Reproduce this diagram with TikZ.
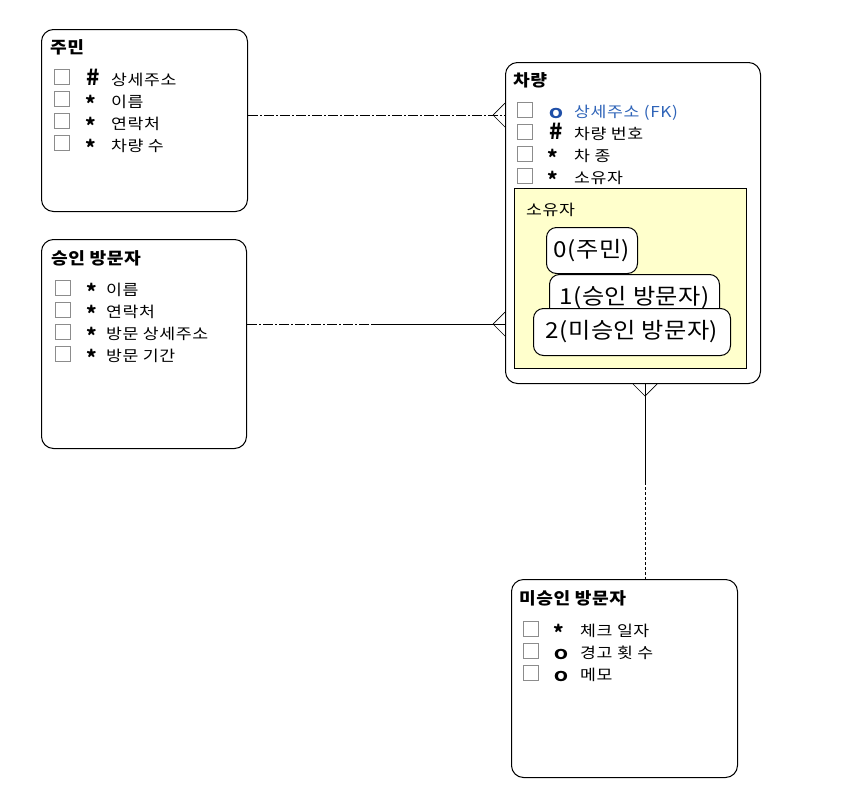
\documentclass[tikz,border=0pt]{standalone}
\usepackage{fontspec}
\setmainfont{Noto Sans CJK KR}
\usetikzlibrary{calc}
\definecolor{fkblue}{HTML}{2F64B8}
\definecolor{okblue}{HTML}{1F4FA8}
\definecolor{boxgray}{HTML}{8C8C8C}
\definecolor{paleyellow}{HTML}{FFFFCC}
\begin{document}
\begin{tikzpicture}[x=1pt,y=-1pt,
  entity/.style={draw, line width=1pt, rounded corners=12pt, inner sep=0pt, anchor=north west},
  chk/.style={draw=boxgray, line width=1pt, minimum size=15pt, inner sep=0pt, anchor=north west},
  txt/.style={anchor=base west, inner sep=0pt, font=\fontsize{15}{18}\selectfont\addfontfeatures{FakeStretch=1.15,LetterSpace=4}},
  ttl/.style={anchor=base west, inner sep=0pt, font=\fontsize{16.5}{19}\selectfont\bfseries\addfontfeatures{FakeStretch=1.1,LetterSpace=3}},
  star/.style={anchor=base, inner sep=0pt, font=\fontsize{20}{22}\selectfont\bfseries},
  hash/.style={anchor=base, inner sep=0pt, font=\fontsize{22}{24}\selectfont\bfseries},
  circ/.style={anchor=base, inner sep=0pt, font=\fontsize{13.5}{15}\selectfont\bfseries\addfontfeatures{FakeStretch=1.35}},
  pill/.style={draw, fill=white, rounded corners=10pt, line width=1pt, inner sep=0pt, anchor=north west, font=\fontsize{22}{26}\selectfont\addfontfeatures{FakeStretch=1.1,LetterSpace=2}},
  conn/.style={line width=0.9pt},
  dashdot/.style={conn, dash pattern=on 10pt off 2pt on 2pt off 2pt},
  shortdash/.style={conn, dash pattern=on 3pt off 2pt},
  foot/.style={line width=0.7pt}]
\useasboundingbox (0,0) rectangle (841,809);

% ---------- 주민 ----------
\node[entity, minimum width=206pt, minimum height=182pt] (jumin) at (41,29) {};
\node[ttl] (juminT) at (50,53) {주민};
\node[chk] (jc1) at (54,69) {};
\node[chk] (jc2) at (54,91) {};
\node[chk] (jc3) at (54,113) {};
\node[chk] (jc4) at (54,135) {};
\node[hash] (js1) at (93,85) {\#};
\node[star] (js2) at (91,111) {*};
\node[star] (js3) at (91,133) {*};
\node[star] (js4) at (91,155) {*};
\node[txt] (jt1) at (111,85) {상세주소};
\node[txt] (jt2) at (111,107) {이름};
\node[txt] (jt3) at (111,129) {연락처};
\node[txt] (jt4) at (111,151) {차량 수};

% ---------- 승인 방문자 ----------
\node[entity, minimum width=205pt, minimum height=209pt] (seung) at (41,239) {};
\node[ttl] (seungT) at (51,264) {승인 방문자};
\node[chk] (sc1) at (55,280) {};
\node[chk] (sc2) at (55,302) {};
\node[chk] (sc3) at (55,324) {};
\node[chk] (sc4) at (55,346) {};
\node[star] (ss1) at (92,299) {*};
\node[star] (ss2) at (92,321) {*};
\node[star] (ss3) at (92,343) {*};
\node[star] (ss4) at (92,365) {*};
\node[txt] (st1) at (106,295) {이름};
\node[txt] (st2) at (106,317) {연락처};
\node[txt] (st3) at (106,339) {방문 상세주소};
\node[txt] (st4) at (106,361) {방문 기간};

% ---------- 차량 ----------
\node[entity, minimum width=255pt, minimum height=321pt] (car) at (505,62) {};
\node[ttl] (carT) at (513,86) {차량};
\node[chk] (cc1) at (517,102) {};
\node[chk] (cc2) at (517,124) {};
\node[chk] (cc3) at (517,146) {};
\node[chk] (cc4) at (517,168) {};
\node[circ, text=okblue] (cs1) at (556,118) {O};
\node[hash] (cs2) at (556,139) {\#};
\node[star] (cs3) at (553,165) {*};
\node[star] (cs4) at (553,187) {*};
\node[txt, text=fkblue] (ct1) at (574,117) {상세주소 (FK)};
\node[txt] (ct2) at (574,139) {차량 번호};
\node[txt] (ct3) at (574,161) {차 종};
\node[txt] (ct4) at (574,183) {소유자};
\node[draw, line width=0.8pt, fill=paleyellow, minimum width=232pt, minimum height=180pt, inner sep=0pt, anchor=north west] (sub) at (514,188) {};
\node[txt] (subT) at (526,215) {소유자};
\node[pill, minimum width=91pt, minimum height=46pt] (p0) at (546,227) {0(주민)};
\node[pill, minimum width=170pt, minimum height=46pt] (p1) at (549,274) {1(승인 방문자)};
\node[pill, minimum width=197pt, minimum height=47pt] (p2) at (533,308) {2(미승인 방문자)};

% ---------- 미승인 방문자 ----------
\node[entity, minimum width=226pt, minimum height=198pt] (mis) at (511,579) {};
\node[ttl] (misT) at (519,604) {미승인 방문자};
\node[chk] (mc1) at (523,621) {};
\node[chk] (mc2) at (523,643) {};
\node[chk] (mc3) at (523,665) {};
\node[star] (ms1) at (559,640) {*};
\node[circ] (ms2) at (561,659) {O};
\node[circ] (ms3) at (561,681) {O};
\node[txt] (mt1) at (580,636) {체크 일자};
\node[txt] (mt2) at (580,658) {경고 횟 수};
\node[txt] (mt3) at (580,680) {메모};

% ---------- connectors ----------
% 주민 -- 차량
\coordinate (e1) at (car.west |- 0,115);
\coordinate (f1) at ($(e1)+(-12,0)$);
\draw[dashdot] (jumin.east |- e1) -- (e1);
\draw[foot] (f1) -- ($(e1)+(0,-12)$);
\draw[foot] (f1) -- ($(e1)+(0,12)$);

% 승인 방문자 -- 차량
\coordinate (e2) at (car.west |- 0,324);
\coordinate (m2) at (372,324);
\draw[dashdot] (seung.east |- e2) -- (m2);
\draw[conn] (m2) -- (e2);
\coordinate (f2) at ($(e2)+(-12,0)$);
\draw[foot] (f2) -- ($(e2)+(0,-12)$);
\draw[foot] (f2) -- ($(e2)+(0,12)$);

% 차량 -- 미승인 방문자
\coordinate (e3) at (car.south -| 645,0);
\coordinate (s3) at (mis.north -| 645,0);
\coordinate (m3) at (645,482);
\draw[conn] (e3) -- (m3);
\draw[shortdash] (m3) -- (s3);
\coordinate (f3) at ($(e3)+(0,12)$);
\draw[foot] (f3) -- ($(e3)+(-12,0)$);
\draw[foot] (f3) -- ($(e3)+(12,0)$);
\end{tikzpicture}
\end{document}
